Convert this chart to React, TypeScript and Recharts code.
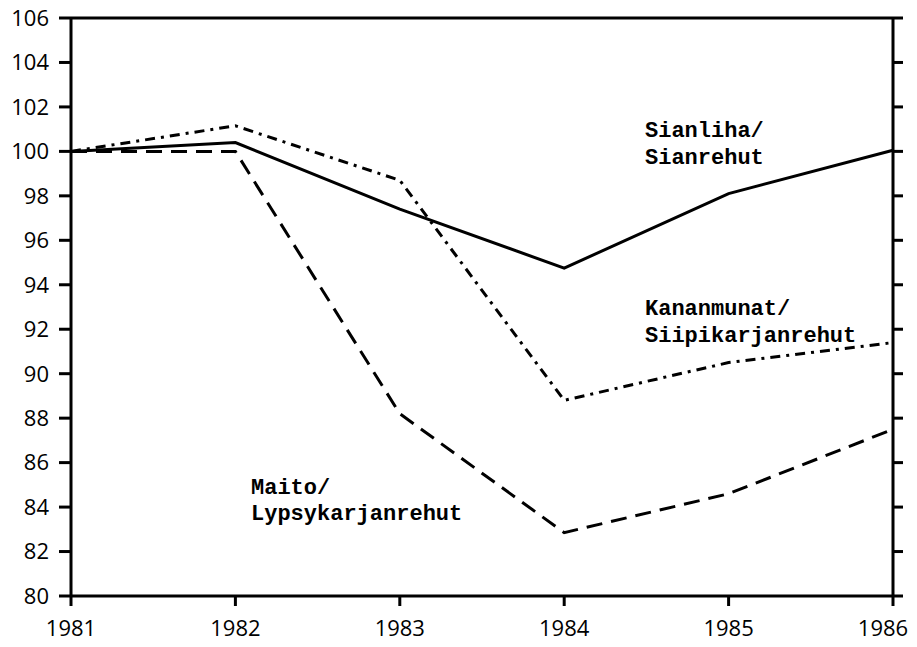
import { LineChart, Line, XAxis, YAxis, ReferenceLine } from "recharts";

// years on the x axis
const years = ["1981", "1982", "1983", "1984", "1985", "1986"];

// price ratio indexes, 1981 = 100
const sianliha = [100, 100.4, 97.4, 94.75, 98.1, 100.05];
const kananmunat = [100, 101.15, 98.7, 88.8, 90.5, 91.4];
const maito = [100, 100, 88.2, 82.85, 84.6, 87.5];

const yTicks = [80, 82, 84, 86, 88, 90, 92, 94, 96, 98, 100, 102, 104, 106];

const data = years.map((year, i) => ({
    year,
    sianliha: sianliha[i],
    kananmunat: kananmunat[i],
    maito: maito[i]
}));

const tickFont = { fontFamily: "'Open Sans', sans-serif", fontSize: 22, fill: "#000" };
const labelFont = { fontFamily: "'Liberation Mono', monospace", fontSize: 22, fontWeight: 700, fill: "#000" };

// year labels under the axis; the last one sits a bit to the left like in the print
function YearTick({ x, y, payload, index }: any) {
    const shift = index === years.length - 1 ? -10 : 0;
    return (
        <text x={x + shift} y={y} dy={28} textAnchor="middle" {...tickFont}>
            {payload.value}
        </text>
    );
}

function App() {

    return (

        <div style={{ position: "absolute", left: 0, top: 0, background: "#fff" }}>

            <LineChart
                width={917}
                height={647}
                data={data}
                margin={{ top: 18, right: 0, left: 0, bottom: 0 }}
            >

                <XAxis
                    dataKey="year"
                    height={51}
                    interval={0}
                    padding={{ left: 0, right: 0 }}
                    axisLine={{ stroke: "#000", strokeWidth: 3 }}
                    tickLine={{ stroke: "#000", strokeWidth: 3 }}
                    tickSize={10}
                    tick={YearTick}
                />

                <YAxis
                    yAxisId="left"
                    width={71}
                    domain={[80, 106]}
                    ticks={yTicks}
                    interval={0}
                    axisLine={{ stroke: "#000", strokeWidth: 3 }}
                    tickLine={{ stroke: "#000", strokeWidth: 3 }}
                    tickSize={12}
                    tickMargin={10}
                    tick={tickFont}
                />

                <YAxis
                    yAxisId="right"
                    orientation="right"
                    width={24}
                    domain={[80, 106]}
                    ticks={yTicks}
                    interval={0}
                    axisLine={{ stroke: "#000", strokeWidth: 3 }}
                    tickLine={{ stroke: "#000", strokeWidth: 3 }}
                    tickSize={10}
                    tick={{ fill: "none", fontSize: 1 }}
                />

                <ReferenceLine yAxisId="left" y={106} stroke="#000" strokeWidth={3} />

                {/* keeps the right axis bound to the same scale, not visible */}
                <Line
                    yAxisId="right"
                    dataKey="sianliha"
                    stroke="none"
                    dot={false}
                    activeDot={false}
                    isAnimationActive={false}
                />

                <Line
                    yAxisId="left"
                    type="linear"
                    dataKey="sianliha"
                    stroke="#000"
                    strokeWidth={3}
                    dot={false}
                    isAnimationActive={false}
                />

                <Line
                    yAxisId="left"
                    type="linear"
                    dataKey="kananmunat"
                    stroke="#000"
                    strokeWidth={3}
                    strokeDasharray="10 6 3 6"
                    dot={false}
                    isAnimationActive={false}
                />

                <Line
                    yAxisId="left"
                    type="linear"
                    dataKey="maito"
                    stroke="#000"
                    strokeWidth={3}
                    strokeDasharray="16 9"
                    dot={false}
                    isAnimationActive={false}
                />

                <text x={645} y={137} {...labelFont}>Sianliha/</text>
                <text x={645} y={164} {...labelFont}>Sianrehut</text>

                <text x={645} y={315} {...labelFont}>Kananmunat/</text>
                <text x={645} y={342} {...labelFont}>Siipikarjanrehut</text>

                <text x={251} y={494} {...labelFont}>Maito/</text>
                <text x={251} y={520} {...labelFont}>Lypsykarjanrehut</text>

            </LineChart>

        </div>

    );

}

export default App;
